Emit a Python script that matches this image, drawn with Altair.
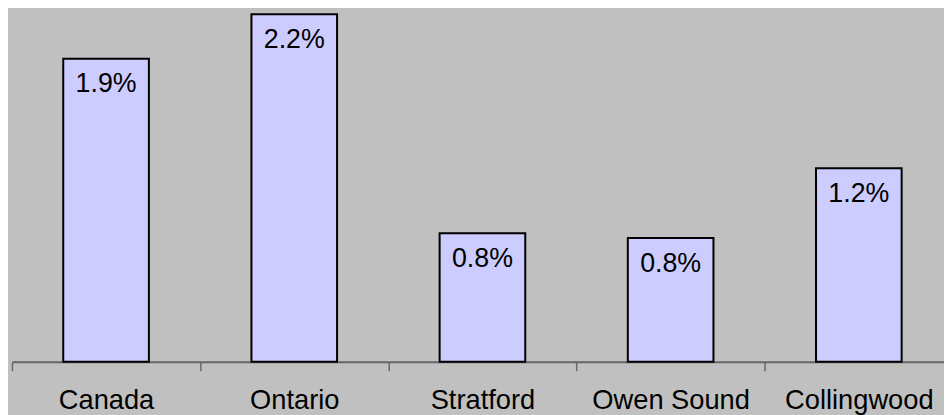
import altair as alt
import pandas as pd

categories = ["Canada", "Ontario", "Stratford", "Owen Sound", "Collingwood"]
values = [1.91, 2.19, 0.81, 0.78, 1.22]
labels = ["1.9%", "2.2%", "0.8%", "0.8%", "1.2%"]

df = pd.DataFrame({"cat": categories, "val": values, "lab": labels})

FONT = "Liberation Sans"

x_enc = alt.X(
    "cat:N",
    sort=categories,
    title=None,
    scale=alt.Scale(paddingInner=0, paddingOuter=0),
    axis=alt.Axis(
        labelAngle=0,
        labelFont=FONT,
        labelFontSize=27.5,
        labelColor="black",
        labelBaseline="alphabetic",
        labelPadding=38,
        domainColor="#666666",
        domainWidth=2,
        tickColor="#666666",
        tickWidth=1.5,
        tickSize=9,
        tickBand="extent",
        grid=False,
    ),
)
y_enc = alt.Y(
    "val:Q",
    title=None,
    axis=None,
    scale=alt.Scale(domain=[0, 2.21875], nice=False, zero=True),
)

bars = alt.Chart(df).mark_bar(
    width=alt.RelativeBandSize(0.455),
    fill="#CCCCFF",
    stroke="black",
    strokeWidth=2,
).encode(x=x_enc, y=y_enc)

text = alt.Chart(df).mark_text(
    baseline="alphabetic",
    align="center",
    dy=34,
    font=FONT,
    fontSize=27,
    color="black",
).encode(x=x_enc, y=y_enc, text="lab:N")

chart = (
    alt.layer(bars, text)
    .properties(
        width=949,
        height=355,
        autosize=alt.AutoSizeParams(type="none"),
        padding={"left": 4, "top": 0, "right": -9, "bottom": 52},
        background="#C0C0C0",
    )
    .configure_view(stroke=None)
)

chart.save("out.html", embed_options={"renderer": "svg", "actions": False})
